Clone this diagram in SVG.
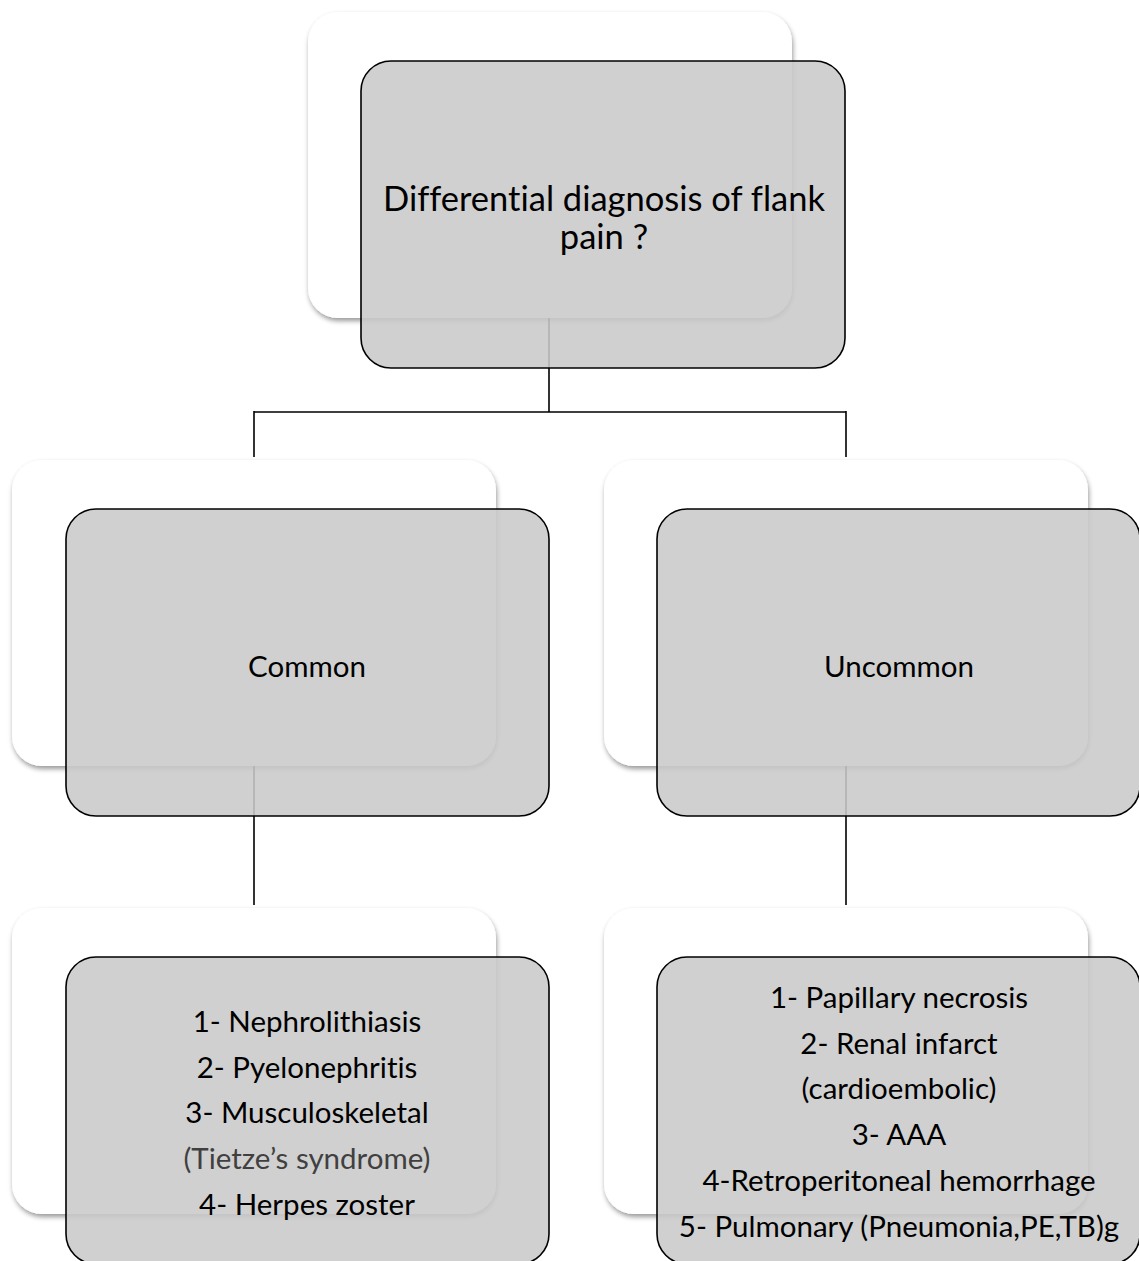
<svg xmlns="http://www.w3.org/2000/svg" width="1139" height="1261" viewBox="0 0 1139 1261">
<defs>
<filter id="sh" x="-10%" y="-10%" width="125%" height="125%">
<feDropShadow dx="1" dy="3" stdDeviation="2.5" flood-color="#000" flood-opacity="0.4"/>
</filter>
</defs>
<style>
.back{fill:#fff;filter:url(#sh)}
.front{fill:#c9c9c9;fill-opacity:0.88;stroke:#000;stroke-width:1.6}
.conn{fill:none;stroke:#000;stroke-width:1.6}
text{font-family:Lato,"Open Sans","Liberation Sans",sans-serif;fill:#000;text-anchor:middle;font-variant-ligatures:none}
.t1{font-size:34.5px}
.t2{font-size:29.5px}
.g{fill:#404040}
</style>
<rect width="1139" height="1261" fill="#fff"/>
<g id="backs">
<rect class="back" x="308" y="12" width="484" height="306" rx="30"/>
<rect class="back" x="12" y="460" width="484" height="306" rx="30"/>
<rect class="back" x="604" y="460" width="484" height="306" rx="30"/>
<rect class="back" x="12" y="908" width="484" height="306" rx="30"/>
<rect class="back" x="604" y="908" width="484" height="306" rx="30"/>
</g>
<g id="connectors">
<path class="conn" d="M549 318 V412 M254 412 H846 M254 411 V457 M846 411 V457"/>
<path class="conn" d="M254 766 V905"/>
<path class="conn" d="M846 766 V905"/>
</g>
<g id="root">
<rect class="front" x="361" y="61" width="484" height="307" rx="30"/>
<text class="t1" x="604" y="211">Differential diagnosis of flank</text>
<text class="t1" x="604" y="249">pain ?</text>
</g>
<g id="common">
<rect class="front" x="66" y="509" width="483" height="307" rx="30"/>
<text class="t2" x="307" y="677">Common</text>
</g>
<g id="uncommon">
<rect class="front" x="657" y="509" width="483" height="307" rx="30"/>
<text class="t2" x="899" y="677">Uncommon</text>
</g>
<g id="common-list">
<rect class="front" x="66" y="957" width="483" height="307" rx="30"/>
<text class="t2" x="307" y="1032">1- Nephrolithiasis</text>
<text class="t2" x="307" y="1078">2- Pyelonephritis</text>
<text class="t2" x="307" y="1123">3- Musculoskeletal</text>
<text class="t2 g" x="307" y="1169">(Tietze’s syndrome)</text>
<text class="t2" x="307" y="1215">4- Herpes zoster</text>
</g>
<g id="uncommon-list">
<rect class="front" x="657" y="957" width="483" height="307" rx="30"/>
<text class="t2" x="899" y="1008">1- Papillary necrosis</text>
<text class="t2" x="899" y="1054">2- Renal infarct</text>
<text class="t2" x="899" y="1099">(cardioembolic)</text>
<text class="t2" x="899" y="1145">3- AAA</text>
<text class="t2" x="899" y="1191">4-Retroperitoneal hemorrhage</text>
<text class="t2" x="899" y="1237">5- Pulmonary (Pneumonia,PE,TB)g</text>
</g>
</svg>
